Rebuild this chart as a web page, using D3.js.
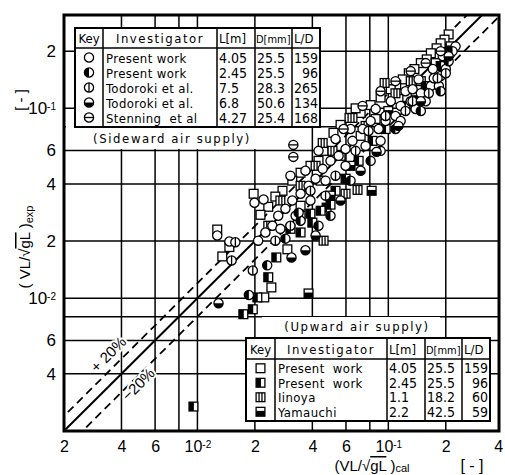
<!DOCTYPE html>
<html>
<head>
<meta charset="utf-8">
<script src="https://cdn.jsdelivr.net/npm/d3@7"></script>
<style>
  body { margin: 0; background: #fff; }
  svg { display: block; }
  text { font-family: "Liberation Sans", Arial, sans-serif; fill: #000; }
  .leg text { font-family: "DejaVu Sans Condensed", "DejaVu Sans", sans-serif; font-size: 13px; }
</style>
</head>
<body>
<svg id="chart" width="505" height="475"></svg>
<script>
// ---- data (x = calculated, y = experimental) ----
var sideOpen = [[0.0199,0.0318],[0.0222,0.0331],[0.0127,0.0214],[0.0147,0.0199],[0.131,0.109],[0.148,0.120],
  [0.167,0.131],[0.188,0.148],[0.200,0.161],[0.184,0.131],[0.157,0.109],[0.139,0.0991],[0.116,0.103],[0.109,0.0911],
  [0.0968,0.0858],[0.0890,0.0778],[0.0808,0.0858],[0.0733,0.0778],[0.0649,0.0674],[0.0597,0.0611],[0.0549,0.0562],
  [0.0498,0.0529],[0.0453,0.0480],[0.0416,0.0426],[0.0382,0.0391],[0.0347,0.0355],[0.0314,0.0327],[0.0289,0.0296],
  [0.0265,0.0272],[0.0247,0.0241],[0.0227,0.0222],[0.0208,0.0201],[0.0307,0.0442],[0.0368,0.0469],[0.0431,0.0597],
  [0.0529,0.0690],[0.0634,0.0778],[0.0858,0.0991],[0.103,0.109],[0.123,0.123],[0.144,0.142],[0.171,0.161],
  [0.212,0.195],[0.225,0.212],[0.193,0.188],[0.116,0.0858],[0.0911,0.0674],[0.0760,0.0634],[0.0597,0.0498],
  [0.0469,0.0416],[0.0391,0.0327],[0.0327,0.0272],[0.0272,0.0232],[0.173,0.144],[0.134,0.126]];
var sideHalf = [[0.0232,0.0149],[0.0186,0.0104],[0.0289,0.0206],[0.0347,0.0256],[0.0339,0.0282],[0.0431,0.0241],
  [0.0498,0.0272],[0.0634,0.0416],[0.0808,0.0529],[0.0911,0.0597],[0.109,0.0778],[0.148,0.0968],[0.188,0.123],
  [0.207,0.177],[0.217,0.200]];
var todoroki75 = [[0.0151,0.0158],[0.0195,0.0140],[0.0158,0.0197],[0.0307,0.0241],[0.0469,0.0347],[0.0529,0.0442],
  [0.0674,0.0597],[0.0788,0.0760],[0.0968,0.0911],[0.123,0.0968],[0.163,0.120],[0.181,0.144],[0.134,0.109],
  [0.200,0.153],[0.0391,0.0368],[0.0256,0.0201]];
var todoroki68 = [[0.0311,0.0164],[0.0129,0.00941],[0.0562,0.0327],[0.0416,0.0214],[0.0716,0.0469],[0.0868,0.0590],
  [0.113,0.0808],[0.148,0.109],[0.207,0.188],[0.0368,0.0179]];
var stenning = [[0.0318,0.0642],[0.0318,0.0555],[0.0583,0.0778],[0.0911,0.123],[0.131,0.157],[0.0733,0.103],
  [0.109,0.139],[0.157,0.173],[0.188,0.200]];
var upOpen = [[0.207,0.245],[0.197,0.230],[0.188,0.220],[0.179,0.207],[0.167,0.195],[0.159,0.181],[0.148,0.173],
  [0.137,0.161],[0.128,0.153],[0.119,0.142],[0.110,0.133],[0.103,0.126],[0.0911,0.114],[0.0808,0.104],[0.0716,0.0945],
  [0.0674,0.100],[0.0626,0.0890],[0.0562,0.0818],[0.0516,0.0743],[0.0458,0.0597],[0.0431,0.0529],[0.0391,0.0498],
  [0.0347,0.0458],[0.0314,0.0416],[0.0279,0.0368],[0.0256,0.0343],[0.0235,0.0303],[0.0214,0.0275],[0.0197,0.0355],
  [0.0127,0.0230],[0.0147,0.0186],[0.0135,0.0166],[0.0244,0.0114],[0.0224,0.0101],[0.0296,0.0181],[0.0347,0.0307],
  [0.0442,0.0416],[0.0562,0.0562],[0.0716,0.0716],[0.0858,0.0879],[0.113,0.112],[0.148,0.139],[0.177,0.173]];
var upHalf = [[0.0259,0.0164],[0.0235,0.0129],[0.0206,0.0101],[0.0174,0.00824],[0.0195,0.00875],[0.00953,0.00269],
  [0.0475,0.0300],[0.0498,0.0311],[0.0391,0.0279],[0.0400,0.0250],[0.0347,0.0222],[0.0529,0.0368],[0.0699,0.0529],
  [0.0827,0.0674],[0.0968,0.0778],[0.123,0.103],[0.157,0.131],[0.188,0.167],[0.0442,0.0289],[0.0307,0.0232],
  [0.0597,0.0426]];
var iinoya = [[0.0458,0.0201],[0.0597,0.0355],[0.0690,0.0372],[0.0956,0.136],[0.0453,0.0657],[0.0649,0.0890],
  [0.0272,0.0327],[0.0347,0.0391],[0.0416,0.0498],[0.0510,0.0597],[0.0760,0.0808],[0.109,0.120],[0.131,0.139],
  [0.0347,0.0272],[0.0235,0.0241]];
var yamauchi = [[0.0382,0.0106],[0.0818,0.0368],[0.0634,0.0498],[0.100,0.0968],[0.212,0.212],[0.139,0.116],
  [0.0498,0.0347]];

var gridValues = [0.004, 0.006, 0.008, 0.01, 0.02, 0.04, 0.06, 0.08, 0.1, 0.2];
var xTickValues = [0.002, 0.004, 0.006, 0.01, 0.02, 0.04, 0.06, 0.1, 0.2, 0.4];
var xTickLabels = ["2", "4", "6", "10|-2", "2", "4", "6", "10|-1", "2", "4"];
var yTickValues = [0.004, 0.006, 0.01, 0.02, 0.04, 0.06, 0.1, 0.2];
var yTickLabels = ["4", "6", "10|-2", "2", "4", "6", "10|-1", "2"];
var bands = [1.2, 0.8];

var sideHeaders = ["Key", "Investigator", "L[m]", "D[mm]", "L/D"];
var sideRows = [
  ["c0", "Present work", "4.05", "25.5", "159"],
  ["c1", "Present work", "2.45", "25.5", "96"],
  ["c2", "Todoroki et al.", "7.5", "28.3", "265"],
  ["c3", "Todoroki et al.", "6.8", "50.6", "134"],
  ["c4", "Stenning  et al", "4.27", "25.4", "168"]];
var upRows = [
  ["s0", "Present  work", "4.05", "25.5", "159"],
  ["s1", "Present  work", "2.45", "25.5", "96"],
  ["s2", "Iinoya", "1.1", "18.2", "60"],
  ["s3", "Yamauchi", "2.2", "42.5", "59"]];

// ---- chart ----
var svg = d3.select("#chart");
var x = d3.scaleLog().domain([0.002, 0.38]).range([64, 499]);
var y = d3.scaleLog().domain([0.002, 0.31]).range([431, 15]);

svg.append("clipPath").attr("id", "plot")
  .append("rect").attr("x", 64).attr("y", 15).attr("width", 435).attr("height", 416);

//grid
var grid = svg.append("g").attr("stroke", "#000").attr("stroke-width", 1.5);
grid.selectAll(".gx").data(gridValues).enter().append("line")
  .attr("x1", function(d){ return x(d); }).attr("x2", function(d){ return x(d); })
  .attr("y1", y.range()[1]).attr("y2", y.range()[0]);
grid.selectAll(".gy").data(gridValues).enter().append("line")
  .attr("y1", function(d){ return y(d); }).attr("y2", function(d){ return y(d); })
  .attr("x1", x.range()[0]).attr("x2", x.range()[1]);

//white areas behind the two captions
svg.append("rect").attr("x", 66).attr("y", 124).attr("width", 214).attr("height", 25).attr("fill", "#fff");
svg.append("rect").attr("x", 262).attr("y", 317).attr("width", 178).attr("height", 21).attr("fill", "#fff");

//diagonal lines
var lines = svg.append("g").attr("clip-path", "url(#plot)").attr("fill", "none").attr("stroke", "#000");
var lo = 0.0015, hi = 0.5;
lines.append("line")
  .attr("x1", x(lo)).attr("y1", y(lo)).attr("x2", x(hi)).attr("y2", y(hi))
  .attr("stroke-width", 2);
bands.forEach(function(k){
  lines.append("line")
    .attr("x1", x(lo)).attr("y1", y(lo * k)).attr("x2", x(hi)).attr("y2", y(hi * k))
    .attr("stroke-width", 1.8).attr("stroke-dasharray", "8,5");
});

// +-20% labels
svg.append("text").attr("transform", "translate(112,358) rotate(-45)")
  .attr("text-anchor", "middle").attr("font-size", 15)
  .attr("stroke", "#fff").attr("stroke-width", 4).attr("paint-order", "stroke")
  .text("+ 20%");
svg.append("text").attr("transform", "translate(142,388) rotate(-45)")
  .attr("text-anchor", "middle").attr("font-size", 15)
  .attr("stroke", "#fff").attr("stroke-width", 4).attr("paint-order", "stroke")
  .text("−20%");

//markers
function marker(g, type) {
  var r = 4.6, s = 4.4;
  if (type[0] == "c") {
    g.append("circle").attr("r", r).attr("fill", "#fff").attr("stroke", "#000").attr("stroke-width", 1.3);
    if (type == "c1") g.append("path").attr("d", "M0," + (-r) + " A" + r + "," + r + " 0 0 0 0," + r + " Z").attr("fill", "#000");
    if (type == "c3") g.append("path").attr("d", "M" + (-r) + ",0 A" + r + "," + r + " 0 0 0 " + r + ",0 Z").attr("fill", "#000");
    if (type == "c2") g.append("line").attr("y1", -r).attr("y2", r).attr("stroke", "#000").attr("stroke-width", 1.3);
    if (type == "c4") g.append("line").attr("x1", -r).attr("x2", r).attr("stroke", "#000").attr("stroke-width", 1.3);
  } else {
    g.append("rect").attr("x", -s).attr("y", -s).attr("width", 2 * s).attr("height", 2 * s)
      .attr("fill", "#fff").attr("stroke", "#000").attr("stroke-width", 1.3);
    if (type == "s1") g.append("rect").attr("x", -s).attr("y", -s).attr("width", s * 1.1).attr("height", 2 * s).attr("fill", "#000");
    if (type == "s3") g.append("rect").attr("x", -s).attr("y", -s * 0.2).attr("width", 2 * s).attr("height", s * 1.2).attr("fill", "#000");
    if (type == "s2") {
      g.append("line").attr("x1", -s / 3).attr("x2", -s / 3).attr("y1", -s).attr("y2", s).attr("stroke", "#000").attr("stroke-width", 1.3);
      g.append("line").attr("x1", s / 3).attr("x2", s / 3).attr("y1", -s).attr("y2", s).attr("stroke", "#000").attr("stroke-width", 1.3);
    }
  }
}

var series = [
  ["s0", upOpen], ["s2", iinoya], ["s1", upHalf], ["s3", yamauchi],
  ["c0", sideOpen], ["c2", todoroki75], ["c4", stenning], ["c1", sideHalf], ["c3", todoroki68]];
var pts = svg.append("g").attr("clip-path", "url(#plot)");
series.forEach(function(sr){
  pts.selectAll(".p" + sr[0]).data(sr[1]).enter().append("g")
    .attr("class", "p" + sr[0])
    .attr("transform", function(d){ return "translate(" + x(d[0]) + "," + y(d[1]) + ")"; })
    .each(function(){ marker(d3.select(this), sr[0]); });
});

//legend tables
function table(left, top, cols, headH, rowH, rows, caption) {
  var g = svg.append("g").attr("class", "leg");
  var w = cols[cols.length - 1] - left, h = headH + rowH * rows.length + 4;
  g.append("rect").attr("x", left).attr("y", top).attr("width", w).attr("height", h)
    .attr("fill", "#fff").attr("stroke", "#000").attr("stroke-width", 2);
  g.append("line").attr("x1", left).attr("x2", left + w).attr("y1", top + headH).attr("y2", top + headH)
    .attr("stroke", "#000").attr("stroke-width", 1.5);
  cols.slice(1, -1).forEach(function(c){
    g.append("line").attr("x1", c).attr("x2", c).attr("y1", top).attr("y2", top + h)
      .attr("stroke", "#000").attr("stroke-width", 1.5);
  });
  var hx = [(left + cols[1]) / 2, (cols[1] + cols[2]) / 2, cols[2] + 2, cols[3] + 1, cols[4] + 2];
  sideHeaders.forEach(function(t, i){
    g.append("text").attr("x", hx[i]).attr("y", top + headH - 5)
      .attr("text-anchor", i < 2 ? "middle" : "start")
      .attr("letter-spacing", i == 1 ? 1.5 : 0).style("font-size", i == 3 ? "11px" : "13px").text(t);
  });
  rows.forEach(function(r, j){
    var cy = top + headH + rowH * (j + 0.5) + 2;
    var k = g.append("g").attr("transform", "translate(" + ((left + cols[1]) / 2) + "," + cy + ")");
    marker(k, r[0]);
    g.append("text").attr("x", cols[1] + 3).attr("y", cy + 5).attr("letter-spacing", 0.4).attr("xml:space", "preserve").text(r[1]);
    g.append("text").attr("x", cols[2] + 2).attr("y", cy + 5).style("font-size", "14px").text(r[2]);
    g.append("text").attr("x", cols[3] + 2).attr("y", cy + 5).style("font-size", "14px").text(r[3]);
    g.append("text").attr("x", cols[5] - 2).attr("y", cy + 5).style("font-size", "14px").attr("text-anchor", "end").text(r[4]);
  });
  g.append("text").attr("x", caption[0]).attr("y", caption[1]).attr("text-anchor", "middle")
    .attr("letter-spacing", 1.6).text(caption[2]);
}
table(75, 28, [75, 103, 217, 255, 292, 320], 20, 15, sideRows, [172, 143, "(Sideward air supply)"]);
table(246, 338, [246, 275, 387, 425, 462, 490], 21, 14.5, upRows, [357, 331, "(Upward air supply)"]);

//frame
svg.append("rect").attr("x", 64).attr("y", 15).attr("width", 435).attr("height", 416)
  .attr("fill", "none").attr("stroke", "#000").attr("stroke-width", 3);

//axes
function supLabel(sel, labels) {
  sel.selectAll(".tick text").each(function(d, i){
    var t = d3.select(this), lab = labels[i];
    if (lab.indexOf("|") > 0) {
      var parts = lab.split("|");
      t.text(parts[0]);
      t.append("tspan").attr("dy", "-0.45em").attr("font-size", 10).text(parts[1]);
    } else t.text(lab);
  });
}
var xAxis = svg.append("g").attr("transform", "translate(0,431)")
  .call(d3.axisBottom(x).tickValues(xTickValues).tickSize(0).tickPadding(10));
xAxis.select(".domain").remove();
xAxis.selectAll("text").attr("font-size", 16).attr("font-family", "Liberation Sans, Arial, sans-serif");
supLabel(xAxis, xTickLabels);
xAxis.selectAll(".tick text").filter(function(d){ return d == 0.4; }).attr("dx", -5);

var yAxis = svg.append("g").attr("transform", "translate(64,0)")
  .call(d3.axisLeft(y).tickValues(yTickValues).tickSize(0).tickPadding(8));
yAxis.select(".domain").remove();
yAxis.selectAll("text").attr("font-size", 17).attr("font-family", "Liberation Sans, Arial, sans-serif");
supLabel(yAxis, yTickLabels);

//axis titles
var yt = svg.append("text").attr("transform", "translate(30,247) rotate(-90)")
  .attr("text-anchor", "middle").attr("font-size", 15);
yt.append("tspan").text("( VL/√");
yt.append("tspan").style("text-decoration", "overline").text("gL");
yt.append("tspan").text(" )");
yt.append("tspan").attr("font-size", 11).attr("dy", 3).text("exp");
svg.append("text").attr("transform", "translate(26,100) rotate(-90)")
  .attr("text-anchor", "middle").attr("font-size", 15).text("[ - ]");

var xt = svg.append("text").attr("x", 372).attr("y", 471).attr("text-anchor", "middle").attr("font-size", 15);
xt.append("tspan").text("(VL/√");
xt.append("tspan").style("text-decoration", "overline").text("gL");
xt.append("tspan").text(" )");
xt.append("tspan").attr("font-size", 11).attr("dy", 1).text("cal");
svg.append("text").attr("x", 472).attr("y", 471).attr("text-anchor", "middle").attr("font-size", 16).text("[ - ]");
</script>
</body>
</html>
